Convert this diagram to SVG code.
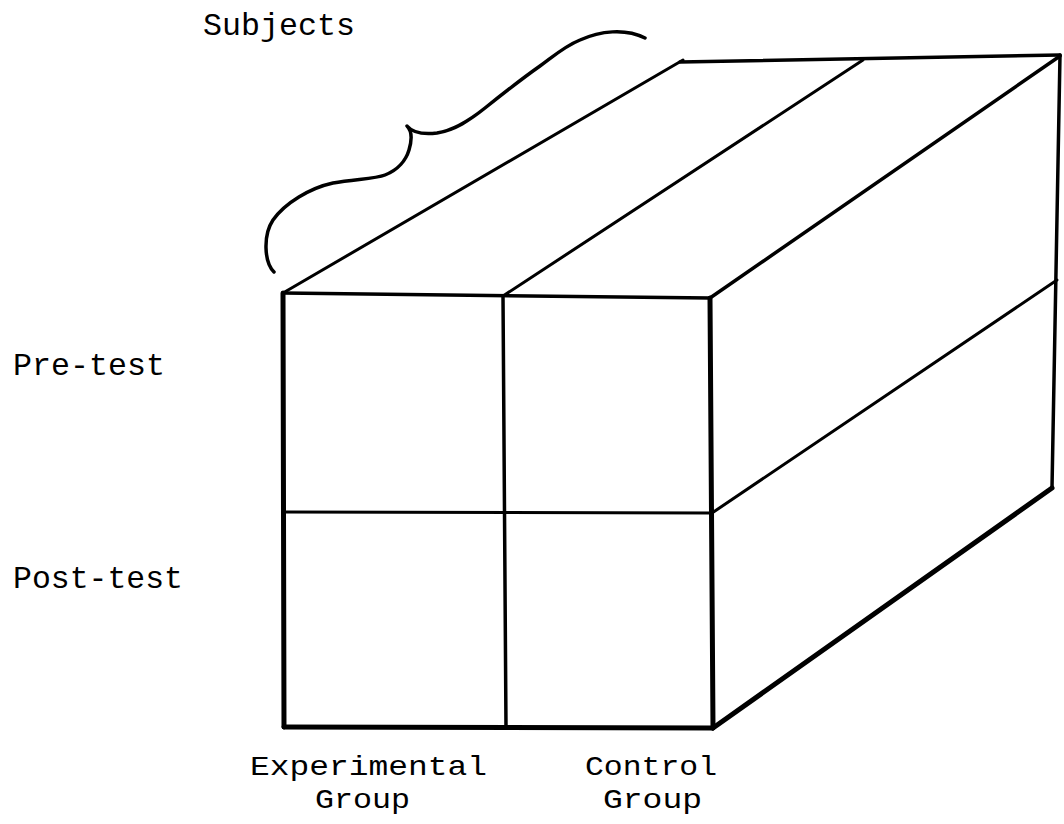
<svg xmlns="http://www.w3.org/2000/svg" width="1064" height="824" viewBox="0 0 1064 824">
<style>
.ln{fill:none;stroke:#000;stroke-width:3.5;stroke-linecap:round;stroke-linejoin:round}
.thick{stroke-width:5}
.thin{stroke-width:3}
.lbl{font-family:"Liberation Mono","Courier New",monospace;font-size:32px;fill:#000}
.sm{font-size:28px}
</style>
<rect width="1064" height="824" fill="#fff"/>
<g id="cube">
<g id="front-face">
<path class="ln thick" d="M283,293 L284,727"/>
<path class="ln" d="M283,293 L710,298"/>
<path class="ln" d="M503,296 L506,727"/>
<path class="ln thick" d="M710,298 L713,728"/>
<path class="ln thin" d="M284,512 L712,513"/>
<path class="ln thick" d="M284,727 L713,728"/>
</g>
<g id="top-face">
<path class="ln thin" d="M283,293 L683,60"/>
<path class="ln thin" d="M503,296 L863,60"/>
<path class="ln" d="M680,62 L1060,55"/>
<path class="ln" d="M710,298 L1060,56"/>
</g>
<g id="side-face">
<path class="ln" d="M1060,55 L1052,488"/>
<path class="ln thin" d="M712,513 L1057,280"/>
<path class="ln thick" d="M713,728 L1052,488"/>
</g>
</g>
<g id="brace">
<path class="ln" d="M274,272 C264,262 263,235 273,220 C285,203 310,188 333,183 C355,179 375,179 385,175 C398,170 406,160 409,150 C412,140 412,131 407,126 C412,132 420,135 437,133 C455,130 470,120 485,108 C505,92 520,80 540,66 C555,55 565,46 580,40 C600,31 625,28 645,38"/>
</g>
<g id="labels">
<text class="lbl" x="203" y="35" textLength="152" lengthAdjust="spacingAndGlyphs">Subjects</text>
<text class="lbl" x="13" y="375" textLength="152" lengthAdjust="spacingAndGlyphs">Pre-test</text>
<text class="lbl" x="13" y="588" textLength="170" lengthAdjust="spacingAndGlyphs">Post-test</text>
<text class="lbl sm" x="250" y="775" textLength="237" lengthAdjust="spacingAndGlyphs">Experimental</text>
<text class="lbl sm" x="315" y="808" textLength="95" lengthAdjust="spacingAndGlyphs">Group</text>
<text class="lbl sm" x="585" y="775" textLength="132" lengthAdjust="spacingAndGlyphs">Control</text>
<text class="lbl sm" x="603" y="808" textLength="99" lengthAdjust="spacingAndGlyphs">Group</text>
</g>
</svg>
